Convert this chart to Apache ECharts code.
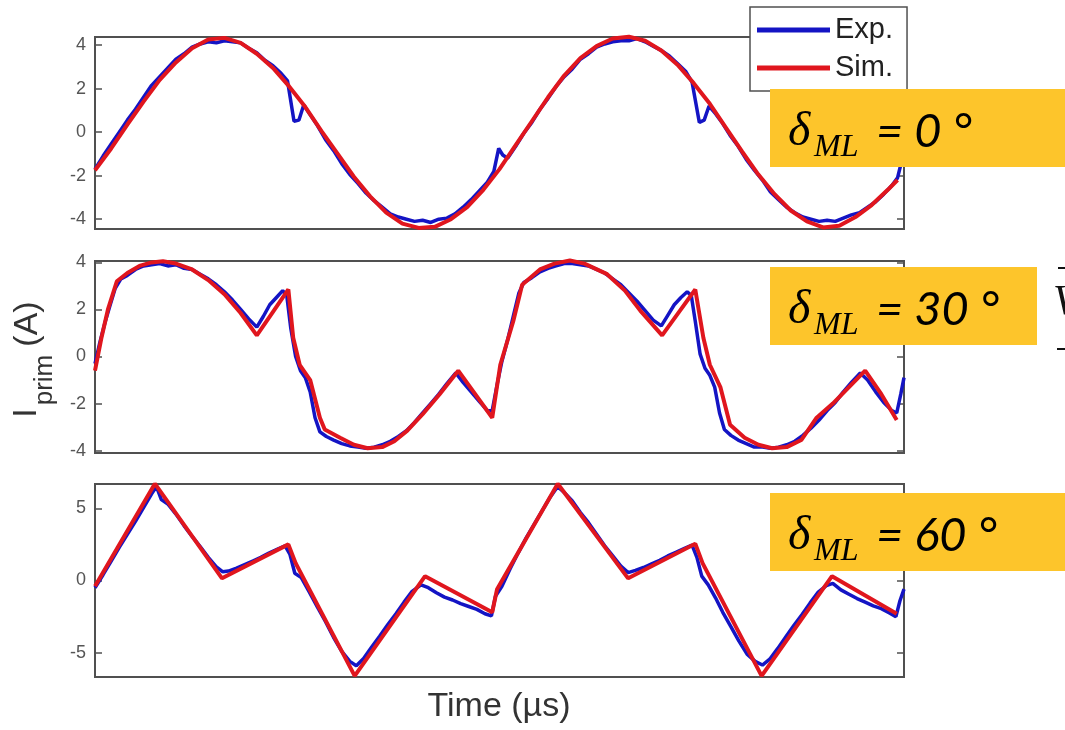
<!DOCTYPE html>
<html><head><meta charset="utf-8">
<script src="https://cdn.jsdelivr.net/npm/echarts@6/dist/echarts.min.js"></script>
<style>html,body{margin:0;padding:0;background:#fff}#c{width:1065px;height:730px}</style>
</head><body><div id="c"></div>
<script>
// ---- Panel 1 : delta_ML = 0 deg ----
const simT1 = [0,2,4,6,8,10,12,14,16,18,20,22,24,26,28,30,32,34,36,38,40,42,44,46,48,50,52,54,56,58,60,62,64,66,68,70,72,74,76,78,80,82,84,86,88,90,92,94,96,98,99.2];
const simI1 = [-1.75,-0.75,0.35,1.4,2.4,3.2,3.85,4.25,4.33,4.1,3.6,2.95,2.1,1.15,0.05,-1.0,-2.05,-2.95,-3.7,-4.2,-4.4,-4.35,-4.0,-3.45,-2.65,-1.7,-0.6,0.5,1.6,2.6,3.4,3.95,4.3,4.38,4.2,3.75,3.1,2.25,1.3,0.2,-0.9,-1.95,-2.85,-3.6,-4.1,-4.38,-4.3,-3.9,-3.35,-2.65,-2.2];
const expT1 = [0,1,2,3,4,5,6,7,8,9,10,11,12,13,14,15,16,17,18,19,20,21,22,23,23.8,24.6,25.2,25.8,26.5,27.5,28.5,29.5,30.5,31.5,32.5,33.5,34.5,35.5,36.5,37.5,38.5,39.5,40.5,41.5,42.5,43.5,44.5,45.5,46.5,47.5,48.5,49.3,49.9,50.4,51,52,53,54,55,56,57,58,59,60,61,62,63,64,65,66,67,68,69,70,71,72,73,73.8,74.7,75.3,75.9,76.7,77.5,78.5,79.5,80.5,81.5,82.5,83.5,84.5,85.5,86.5,87.5,88.5,89.5,90.5,91.5,92.5,93.5,94.5,95.5,96.5,97.5,98.5,99.2,99.6,100];
const expI1 = [-1.7,-1.1,-0.55,0.0,0.55,1.05,1.6,2.15,2.55,2.95,3.35,3.6,3.9,4.05,4.15,4.1,4.2,4.15,4.1,3.85,3.65,3.3,3.05,2.7,2.35,0.5,0.55,1.25,0.85,0.3,-0.35,-0.85,-1.45,-1.95,-2.35,-2.8,-3.15,-3.45,-3.75,-3.9,-4.0,-4.1,-4.05,-4.15,-4.0,-3.95,-3.75,-3.45,-3.1,-2.7,-2.3,-1.8,-0.75,-1.05,-1.2,-0.65,-0.05,0.45,1.05,1.55,2.1,2.55,2.9,3.35,3.6,3.9,4.05,4.15,4.2,4.2,4.3,4.15,3.95,3.75,3.5,3.15,2.8,2.3,0.45,0.55,1.2,0.85,0.45,-0.15,-0.65,-1.25,-1.75,-2.2,-2.75,-3.1,-3.45,-3.7,-3.9,-4.0,-4.1,-4.05,-4.1,-3.95,-3.8,-3.7,-3.45,-3.2,-2.85,-2.45,-2.1,-1.5,-1.3];

// ---- Panel 2 : delta_ML = 30 deg ----
const simT2 = [0,0.8,1.6,2.7,4,5.5,7,8.4,10,12,14,16,18,20,22,23.9,24.5,25.3,26.6,27.8,28.4,30.3,32,33.7,35.5,37,38.6,40.5,42.6,44.9,47,49.1,50.1,51.7,52.8,55,56.8,58.7,60.5,63.3,65.5,67.4,70.1,72.2,74.2,75.2,76,77.3,78.5,80.3,82,83.7,85.5,87.3,89.2,91.2,93.2,95.2,97.2,99.1];
const simI2 = [-0.6,0.8,2.0,3.2,3.55,3.85,4.0,4.05,3.95,3.7,3.25,2.65,1.85,0.9,1.9,2.85,0.8,-0.35,-1.0,-2.6,-3.1,-3.45,-3.75,-3.9,-3.85,-3.6,-3.15,-2.45,-1.6,-0.6,-1.6,-2.6,-0.35,1.5,3.05,3.7,3.95,4.08,3.95,3.5,2.8,1.95,0.9,1.9,2.85,0.8,-0.35,-1.3,-2.9,-3.45,-3.75,-3.9,-3.85,-3.55,-2.6,-2.0,-1.3,-0.6,-1.6,-2.7];
const expT2 = [0,0.6,1.2,1.8,2.5,3.2,4,5,6,7,8,9,10,11,12,13,14,15,16,17,18,19,20,20.8,21.6,22.4,23.2,23.7,24.2,24.8,25.4,26,26.6,27.2,27.8,28.6,29.5,30.5,31.5,32.5,33.5,34.5,35.5,36.5,37.5,38.5,39.5,40.5,41.5,42.5,43.5,44.6,45.5,46.5,47.5,48.5,49.1,49.7,50.3,51,51.7,52.4,53,54,55,56,57,58,59,60,61,62,63,64,65,66,67,68,69,70,70.8,71.6,72.4,73.2,73.7,74.2,74.8,75.4,76,76.6,77.2,77.8,78.6,79.5,80.5,81.5,82.5,83.5,84.5,85.5,86.5,87.5,88.5,89.5,90.5,91.5,92.5,93.5,94.6,95.5,96.5,97.5,98.5,99.1,99.6,100];
const expI2 = [-0.3,0.6,1.4,2.1,2.9,3.3,3.45,3.7,3.85,3.9,3.95,3.85,3.9,3.75,3.7,3.5,3.3,3.05,2.75,2.4,2.0,1.6,1.25,1.7,2.2,2.5,2.8,2.6,1.2,0.0,-0.6,-0.9,-1.5,-2.6,-3.2,-3.4,-3.55,-3.7,-3.8,-3.85,-3.9,-3.85,-3.75,-3.6,-3.4,-3.15,-2.8,-2.4,-2.0,-1.6,-1.15,-0.7,-1.1,-1.5,-1.9,-2.3,-2.3,-1.2,-0.2,0.7,1.7,2.7,3.15,3.35,3.6,3.75,3.85,3.95,3.95,3.9,3.85,3.7,3.55,3.3,3.05,2.7,2.35,1.95,1.55,1.3,1.75,2.2,2.5,2.75,2.6,1.5,0.1,-0.5,-0.8,-1.3,-2.4,-3.1,-3.35,-3.55,-3.7,-3.85,-3.85,-3.9,-3.85,-3.75,-3.6,-3.35,-3.05,-2.7,-2.3,-1.95,-1.5,-1.1,-0.7,-1.0,-1.5,-1.95,-2.3,-2.4,-1.6,-0.9];

// ---- Panel 3 : delta_ML = 60 deg ----
const simT3 = [0,7.4,15.7,23.9,24.8,32.1,40.8,49.1,49.7,57.2,65.9,74.2,75.1,82.4,91.1,99.1];
const simI3 = [-0.4,6.7,0.15,2.5,1.2,-6.6,0.3,-2.2,-0.6,6.7,0.15,2.55,1.2,-6.6,0.3,-2.3];
const expT3 = [0,1,2,3,4,5,6,7,7.6,8.2,9,10,11,12,13,14,15,15.8,16.5,17.5,18.5,19.5,20.5,21.5,22.5,23.5,24.1,24.7,25.5,26.5,27.5,28.5,29.5,30.5,31.5,32.3,33.2,34.2,35.2,36.2,37.2,38.2,39.2,40.3,41.2,42.2,43.2,44.2,45.2,46.2,47.2,48.2,49,49.5,50.3,51.3,52.3,53.3,54.3,55.3,56.3,57.2,58,59,60,61,62,63,64,65,65.9,66.8,67.8,68.8,69.8,70.8,71.8,72.8,73.8,74.4,75,75.8,76.7,77.6,78.6,79.6,80.6,81.6,82.5,83.4,84.4,85.4,86.4,87.4,88.4,89.4,90.4,91.2,92.2,93.2,94.2,95.2,96.2,97.2,98.2,99,99.5,100];
const expI3 = [-0.5,0.4,1.35,2.3,3.2,4.1,5.05,6.0,6.5,5.6,5.3,4.6,3.8,3.05,2.35,1.6,0.95,0.6,0.65,0.85,1.1,1.35,1.6,1.9,2.15,2.4,1.8,0.5,0.2,-0.8,-1.85,-2.85,-3.95,-4.9,-5.6,-5.9,-5.4,-4.6,-3.85,-3.05,-2.3,-1.5,-0.75,-0.3,-0.5,-0.85,-1.15,-1.35,-1.6,-1.8,-2.0,-2.3,-2.45,-1.1,-0.4,0.8,1.9,2.95,3.9,4.85,5.8,6.5,6.1,5.5,4.7,4.0,3.2,2.4,1.7,1.0,0.55,0.7,0.9,1.15,1.4,1.7,1.95,2.2,2.45,1.6,0.3,-0.3,-1.2,-2.2,-3.2,-4.2,-5.1,-5.6,-5.85,-5.45,-4.7,-3.9,-3.1,-2.35,-1.55,-0.8,-0.35,-0.2,-0.65,-0.95,-1.25,-1.5,-1.75,-1.95,-2.25,-2.5,-1.4,-0.6];

// ---- axes / labels ----
const yTicks1 = [-4,-2,0,2,4];
const yTicks2 = [-4,-2,0,2,4];
const yTicks3 = [-5,0,5];
const yRange1 = [-4.45, 4.37];
const yRange2 = [-4.1, 4.06];
const yRange3 = [-6.68, 6.68];
const xRange = [0, 100];
const deltaValues = ['0', '30', '60'];
const seriesNames = ['Exp.', 'Sim.'];
const xLabel = 'Time (\u00b5s)';

const zip = (t, v) => t.map((x, i) => [x, v[i]]);
const chart = echarts.init(document.getElementById('c'), null, {renderer: 'canvas'});

const gridTops = [37, 261, 484];
const gridHeights = [192, 192, 193];
const yRanges = [yRange1, yRange2, yRange3];
const yTicks = [yTicks1, yTicks2, yTicks3];
const sims = [zip(simT1, simI1), zip(simT2, simI2), zip(simT3, simI3)];
const exps = [zip(expT1, expI1), zip(expT2, expI2), zip(expT3, expI3)];

const FRAME = '#505050';
const grids = [], xAxes = [], yAxes = [], series = [];
for (let i = 0; i < 3; i++) {
  grids.push({left: 95, top: gridTops[i], width: 809, height: gridHeights[i], show: true,
    borderColor: FRAME, borderWidth: 2, backgroundColor: 'transparent'});
  xAxes.push({type: 'value', gridIndex: i, min: xRange[0], max: xRange[1],
    axisLine: {show: false}, axisTick: {show: false}, axisLabel: {show: false}, splitLine: {show: false}});
}
for (let i = 0; i < 3; i++) {
  yAxes.push({type: 'value', gridIndex: i, min: yRanges[i][0], max: yRanges[i][1], position: 'left',
    axisLine: {show: false}, splitLine: {show: false},
    axisTick: {show: true, inside: true, length: 7, customValues: yTicks[i], lineStyle: {color: FRAME, width: 1.5}},
    axisLabel: {customValues: yTicks[i], fontSize: 18, color: '#555', fontFamily: 'Liberation Sans', margin: 9}});
}
for (let i = 0; i < 3; i++) {
  yAxes.push({type: 'value', gridIndex: i, min: yRanges[i][0], max: yRanges[i][1], position: 'right',
    axisLine: {show: false}, splitLine: {show: false}, axisLabel: {show: false},
    axisTick: {show: true, inside: true, length: 7, customValues: yTicks[i], lineStyle: {color: FRAME, width: 1.5}}});
}
for (let i = 0; i < 3; i++) {
  series.push({name: seriesNames[0], type: 'line', xAxisIndex: i, yAxisIndex: i, data: exps[i],
    showSymbol: false, clip: false, z: 2, lineStyle: {color: '#1414c4', width: 3.5}, itemStyle: {color: '#1414c4'}});
  series.push({name: seriesNames[1], type: 'line', xAxisIndex: i, yAxisIndex: i, data: sims[i],
    showSymbol: false, clip: false, z: 3, lineStyle: {color: '#e0161e', width: 4}, itemStyle: {color: '#e0161e'}});
}

const graphics = [];
// y axis title  I_prim (A)
graphics.push({type: 'text', x: 27, y: 413, rotation: Math.PI / 2, z: 50,
  style: {text: 'I', font: '34px "Liberation Sans"', fill: '#333', align: 'center', verticalAlign: 'middle'}});
graphics.push({type: 'text', x: 45, y: 380, rotation: Math.PI / 2, z: 50,
  style: {text: 'prim', font: '26px "Liberation Sans"', fill: '#333', align: 'center', verticalAlign: 'middle'}});
graphics.push({type: 'text', x: 28, y: 324, rotation: Math.PI / 2, z: 50,
  style: {text: '(A)', font: '34px "Liberation Sans"', fill: '#333', align: 'center', verticalAlign: 'middle'}});
// x axis title
graphics.push({type: 'text', x: 499, y: 707, z: 50,
  style: {text: xLabel, font: '34px "Liberation Sans"', fill: '#333', align: 'center', verticalAlign: 'middle'}});

// yellow annotation boxes
const boxTops = [89, 267, 493];
const boxWidths = [295, 267, 295];
for (let i = 0; i < 3; i++) {
  const y0 = boxTops[i];
  graphics.push({type: 'rect', z: 100, shape: {x: 770, y: y0, width: boxWidths[i], height: 78},
    style: {fill: '#FDC52B'}});
  graphics.push({type: 'text', x: 788, y: y0 + 43, z: 101,
    style: {text: '\u03b4', font: 'italic 48px "Liberation Serif"', fill: '#000', align: 'left', verticalAlign: 'middle'}});
  graphics.push({type: 'text', x: 814, y: y0 + 59, z: 101,
    style: {text: 'ML', font: 'italic 32px "Liberation Serif"', fill: '#000', align: 'left', verticalAlign: 'middle'}});
  graphics.push({type: 'text', x: 876, y: y0 + 43, z: 101,
    style: {text: '= ' + deltaValues[i] + ' \u00b0', font: 'italic 47px Lato', fill: '#000', align: 'left', verticalAlign: 'middle'}});
}
// cut-off slide fragment at right edge
graphics.push({type: 'text', x: 1053, y: 303, z: 101,
  style: {text: 'V', font: 'italic 42px "Liberation Serif"', fill: '#111', align: 'left', verticalAlign: 'middle'}});
graphics.push({type: 'line', z: 101, shape: {x1: 1058, y1: 268, x2: 1065, y2: 268}, style: {stroke: '#111', lineWidth: 2}});
graphics.push({type: 'line', z: 101, shape: {x1: 1057, y1: 349, x2: 1065, y2: 349}, style: {stroke: '#111', lineWidth: 2}});

chart.setOption({
  animation: false,
  backgroundColor: '#fff',
  grid: grids, xAxis: xAxes, yAxis: yAxes, series: series,
  legend: {data: seriesNames, orient: 'vertical', left: 750, top: 7, icon: 'rect', itemWidth: 73, itemHeight: 5,
    itemGap: 8, padding: [8, 14, 8, 7], borderColor: FRAME, borderWidth: 1.5, backgroundColor: '#fff',
    selectedMode: false, z: 20,
    textStyle: {fontSize: 29, lineHeight: 30, fontFamily: 'Liberation Sans', color: '#222'}},
  graphic: graphics
});
</script></body></html>
